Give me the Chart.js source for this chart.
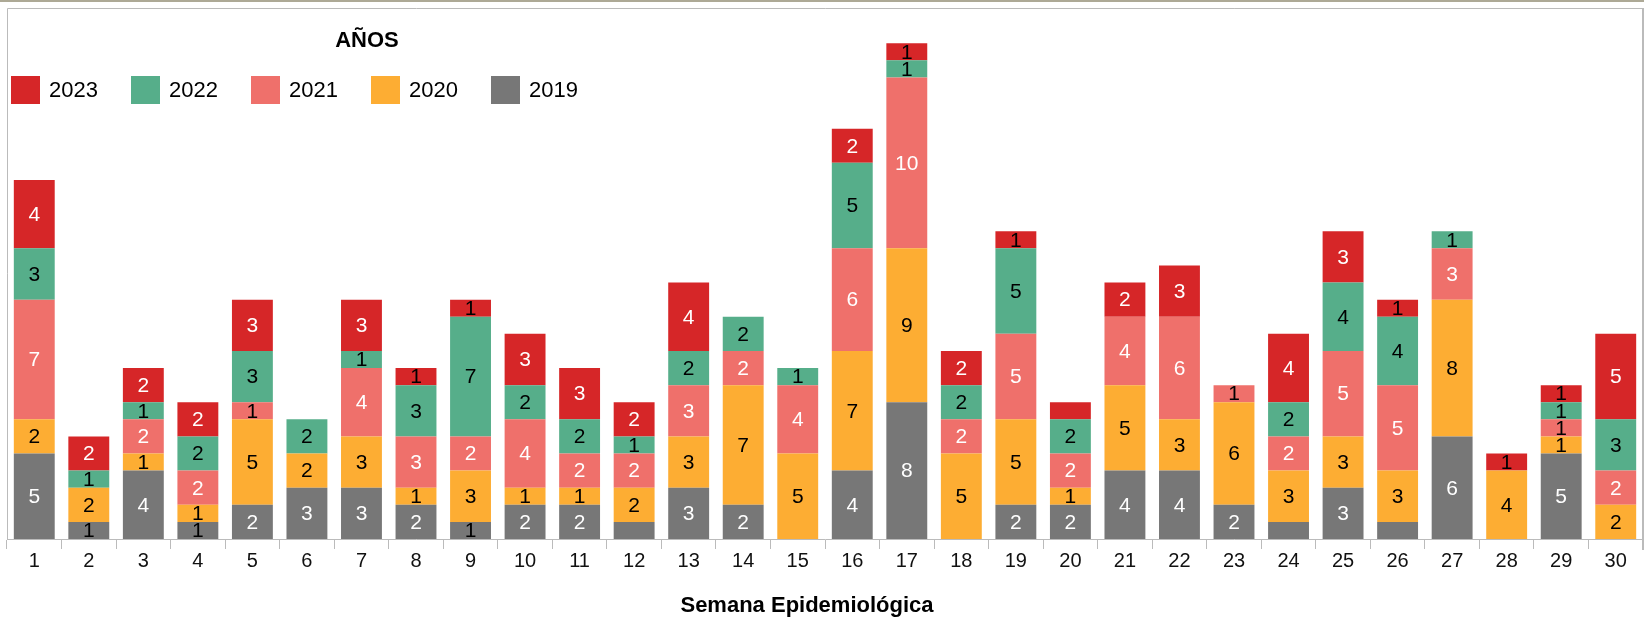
<!DOCTYPE html>
<html>
<head>
<meta charset="utf-8">
<script src="https://cdn.jsdelivr.net/npm/chart.js@4.4.1/dist/chart.umd.min.js"></script>
<style>
  html, body { margin: 0; padding: 0; background: #fff; }
  #wrap { width: 1650px; height: 618px; position: relative; }
</style>
</head>
<body>
<div id="wrap"><canvas id="c" width="1650" height="618"></canvas></div>
<script>
const weeks = ['1','2','3','4','5','6','7','8','9','10','11','12','13','14','15','16','17','18','19','20','21','22','23','24','25','26','27','28','29','30'];
const y2019 = [5,1,4,1,2,3,3,2,1,2,2,1,3,2,0,4,8,0,2,2,4,4,2,1,3,1,6,0,5,0];
const y2020 = [2,2,1,1,5,2,3,1,3,1,1,2,3,7,5,7,9,5,5,1,5,3,6,3,3,3,8,4,1,2];
const y2021 = [7,0,2,2,1,0,4,3,2,4,2,2,3,2,4,6,10,2,5,2,4,6,1,2,5,5,3,0,1,2];
const y2022 = [3,1,1,2,3,2,1,3,7,2,2,1,2,2,1,5,1,2,5,2,0,0,0,2,4,4,1,0,1,3];
const y2023 = [4,2,2,2,3,0,3,1,1,3,3,2,4,0,0,2,1,2,1,1,2,3,0,4,3,1,0,1,1,5];
// segments whose value label is not shown in the reference: [year, week]
const hiddenLabels = [['2019','12'],['2023','20'],['2019','24'],['2019','26']];
const legendTitle = 'AÑOS';
const axisTitle = 'Semana Epidemiológica';

const FONT = "'Liberation Sans', Arial, sans-serif";

const datasets = [
  { label: '2019', data: y2019, backgroundColor: '#777777', labelColor: '#ffffff' },
  { label: '2020', data: y2020, backgroundColor: '#FDAD33', labelColor: '#000000' },
  { label: '2021', data: y2021, backgroundColor: '#EF706B', labelColor: '#ffffff' },
  { label: '2022', data: y2022, backgroundColor: '#56AE8A', labelColor: '#000000' },
  { label: '2023', data: y2023, backgroundColor: '#D62628', labelColor: '#ffffff' }
].map(d => Object.assign(d, { borderWidth: 0, barPercentage: 0.75, categoryPercentage: 1.0 }));

const labelsPlugin = {
  id: 'segLabels',
  afterDatasetsDraw(chart) {
    const ctx = chart.ctx;
    ctx.save();
    ctx.font = '21px ' + FONT;
    ctx.textAlign = 'center';
    ctx.textBaseline = 'middle';
    chart.data.datasets.forEach((ds, di) => {
      const meta = chart.getDatasetMeta(di);
      meta.data.forEach((bar, i) => {
        const v = ds.data[i];
        if (!v) return;
        if (hiddenLabels.some(h => h[0] === ds.label && h[1] === chart.data.labels[i])) return;
        const p = bar.getProps(['x', 'y', 'base'], true);
        const cy = (p.y + p.base) / 2;
        ctx.fillStyle = v === 1 ? '#000000' : ds.labelColor;
        ctx.fillText(String(v), p.x, cy + 1);
      });
    });
    ctx.restore();
  }
};

const framePlugin = {
  id: 'frame',
  afterDraw(chart) {
    const ctx = chart.ctx;
    const a = chart.chartArea;
    ctx.save();
    // top olive line
    ctx.fillStyle = '#ADA996';
    ctx.fillRect(0, 0, a.right + 1, 2);
    // frame
    ctx.strokeStyle = '#BBBBBB';
    ctx.lineWidth = 1;
    ctx.beginPath();
    ctx.moveTo(a.left + 0.5, a.bottom);
    ctx.lineTo(a.left + 0.5, a.top - 0.5);
    ctx.lineTo(a.right, a.top - 0.5);
    ctx.stroke();
    ctx.lineWidth = 2;
    ctx.beginPath();
    ctx.moveTo(a.right, a.top - 1);
    ctx.lineTo(a.right, a.bottom + 11);
    ctx.stroke();

    // legend
    ctx.fillStyle = '#000';
    ctx.font = 'bold 22px ' + FONT;
    ctx.textAlign = 'center';
    ctx.textBaseline = 'middle';
    ctx.fillText(legendTitle, 367, 41);
    ctx.font = '22px ' + FONT;
    ctx.textAlign = 'left';
    const order = chart.data.datasets.slice().reverse();
    order.forEach((ds, k) => {
      const x = 11 + k * 120;
      ctx.fillStyle = ds.backgroundColor;
      ctx.fillRect(x, 76, 29, 28);
      ctx.fillStyle = '#000';
      ctx.fillText(ds.label, x + 38, 91);
    });

    // axis title
    ctx.font = 'bold 22px ' + FONT;
    ctx.textAlign = 'center';
    ctx.fillText(axisTitle, 807, 606);
    ctx.restore();
  }
};

new Chart(document.getElementById('c'), {
  type: 'bar',
  data: { labels: weeks, datasets },
  options: {
    responsive: false,
    animation: false,
    devicePixelRatio: 1,
    layout: { padding: { left: 7, right: 7, top: 9, bottom: 0 } },
    plugins: { legend: { display: false }, tooltip: { enabled: false }, title: { display: false } },
    scales: {
      x: {
        stacked: true,
        offset: true,
        grid: { display: true, drawOnChartArea: false, drawTicks: true, tickLength: 10, color: '#BBBBBB', offset: true },
        border: { display: true, color: '#BBBBBB' },
        ticks: { font: { family: FONT, size: 20 }, color: '#111', padding: 0, maxRotation: 0, autoSkip: false },
        afterFit(scale) { scale.height = 79; }
      },
      y: {
        stacked: true,
        display: false,
        min: 0,
        max: 31
      }
    }
  },
  plugins: [labelsPlugin, framePlugin]
});
</script>
</body>
</html>
